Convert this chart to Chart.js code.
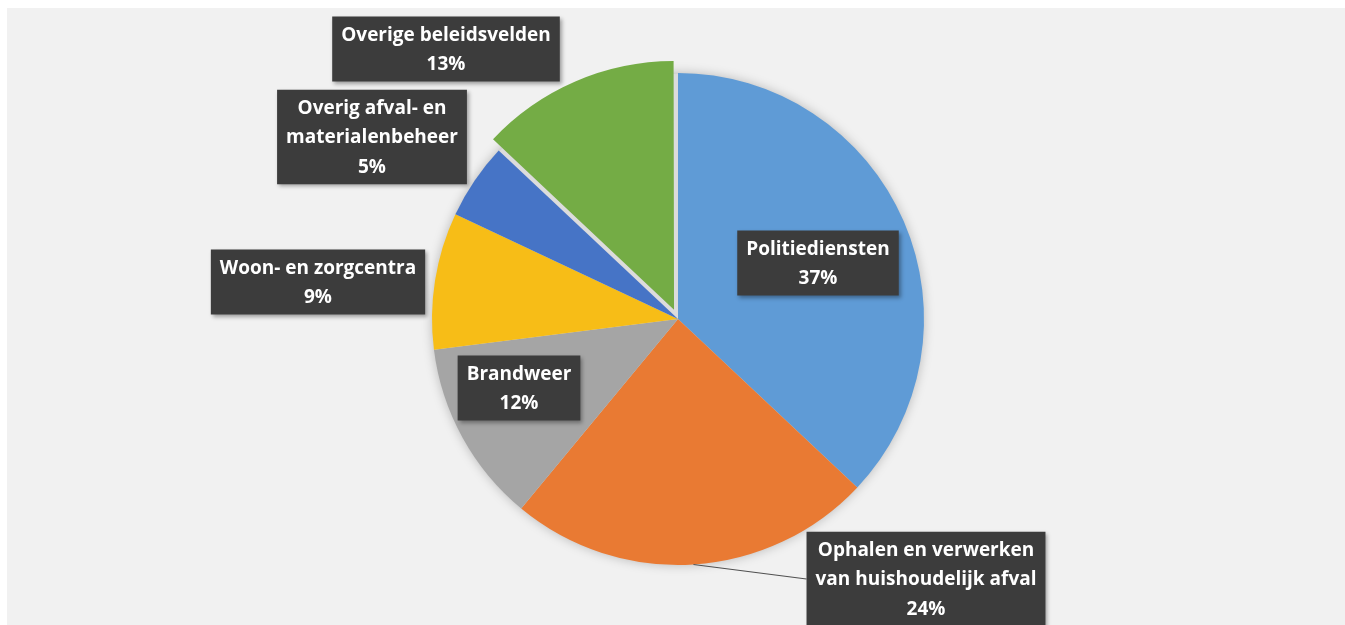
<!DOCTYPE html>
<html>
<head>
<meta charset="utf-8">
<script src="https://cdn.jsdelivr.net/npm/chart.js@4"></script>
<style>
  html, body { margin: 0; padding: 0; background: #ffffff; }
  #wrap { position: relative; width: 1345px; height: 625px; overflow: hidden; }
  #panel { position: absolute; left: 7px; top: 8px; right: 0; bottom: 0; background: #f1f1f1; }
  #chart { position: absolute; left: 0; top: 0; }
</style>
</head>
<body>
<div id="wrap">
  <div id="panel"></div>
  <canvas id="chart" width="1345" height="625"></canvas>
</div>
<script>
// ----------------------
// Data
// ----------------------
const categories = [
  "Politiediensten",
  "Ophalen en verwerken van huishoudelijk afval",
  "Brandweer",
  "Woon- en zorgcentra",
  "Overig afval- en materialenbeheer",
  "Overige beleidsvelden"
];
const shares = [37, 24, 12, 9, 5, 13];

// line breaks for the data labels
const labelLines = [
  ["Politiediensten"],
  ["Ophalen en verwerken", "van huishoudelijk afval"],
  ["Brandweer"],
  ["Woon- en zorgcentra"],
  ["Overig afval- en", "materialenbeheer"],
  ["Overige beleidsvelden"]
];

// ----------------------
// Layout / style
// ----------------------
const sliceColors = ["#5f9bd6", "#e97a33", "#a5a5a5", "#f7bd17", "#4674c6", "#74ac45"];
const sliceOffsets = [0, 0, 0, 0, 0, 40]; // chart.js draws offset / 4
// label box centres, relative to the pie centre (px)
const labelDX = [140, 248, -159, -360, -306, -232];
const labelDY = [-56, 260, 69, -37, -182, -270];
const LABEL_FONT = "bold 19px 'Open Sans'";
const LINE_H = 29.5;
const PAD_X = 9;

// soft shadow under the pie
const pieShadow = {
  id: "pieShadow",
  beforeDatasetsDraw(chart) {
    const arc = chart.getDatasetMeta(0).data[0];
    if (!arc) return;
    const ctx = chart.ctx;
    ctx.save();
    ctx.shadowColor = "rgba(0,0,0,0.28)";
    ctx.shadowBlur = 12;
    ctx.fillStyle = "#dcdcdc";
    ctx.beginPath();
    ctx.arc(arc.x, arc.y, arc.outerRadius - 1, 0, Math.PI * 2);
    ctx.fill();
    ctx.restore();
  }
};

// dark label boxes with white text
const labelBoxes = {
  id: "labelBoxes",
  afterDatasetsDraw(chart) {
    const ctx = chart.ctx;
    const meta = chart.getDatasetMeta(0);
    ctx.save();
    ctx.font = LABEL_FONT;
    meta.data.forEach((arc, i) => {
      const lines = labelLines[i].concat([shares[i] + "%"]);
      const w = Math.max(...lines.map(l => ctx.measureText(l).width)) + PAD_X * 2;
      const h = lines.length * LINE_H + 6;
      const cx = arc.x + labelDX[i];
      const cy = arc.y + labelDY[i];
      const left = cx - w / 2;
      const top = cy - h / 2;

      // leader line for the label outside the pie
      if (i === 1) {
        const a = (arc.startAngle + arc.endAngle) / 2;
        ctx.strokeStyle = "#505050";
        ctx.lineWidth = 1.2;
        ctx.beginPath();
        ctx.moveTo(arc.x + Math.cos(a) * arc.outerRadius, arc.y + Math.sin(a) * arc.outerRadius);
        ctx.lineTo(left, cy);
        ctx.stroke();
      }

      ctx.shadowColor = "rgba(0,0,0,0.35)";
      ctx.shadowBlur = 4;
      ctx.shadowOffsetX = 2;
      ctx.shadowOffsetY = 2;
      ctx.fillStyle = "#3c3c3c";
      ctx.fillRect(left, top, w, h);
      ctx.shadowColor = "transparent";

      ctx.fillStyle = "#ffffff";
      ctx.textAlign = "center";
      ctx.textBaseline = "middle";
      const firstY = cy - (lines.length - 1) * LINE_H / 2;
      lines.forEach((l, k) => ctx.fillText(l, cx, firstY + k * LINE_H + 1));
    });
    ctx.restore();
  }
};

new Chart(document.getElementById("chart"), {
  type: "pie",
  data: {
    labels: categories,
    datasets: [{
      data: shares,
      backgroundColor: sliceColors,
      borderWidth: 0,
      offset: sliceOffsets
    }]
  },
  options: {
    responsive: false,
    animation: false,
    radius: 246,
    layout: { padding: { left: 11, right: 0, top: 13, bottom: 0 } },
    plugins: {
      legend: { display: false },
      tooltip: { enabled: false }
    }
  },
  plugins: [pieShadow, labelBoxes]
});
</script>
</body>
</html>
